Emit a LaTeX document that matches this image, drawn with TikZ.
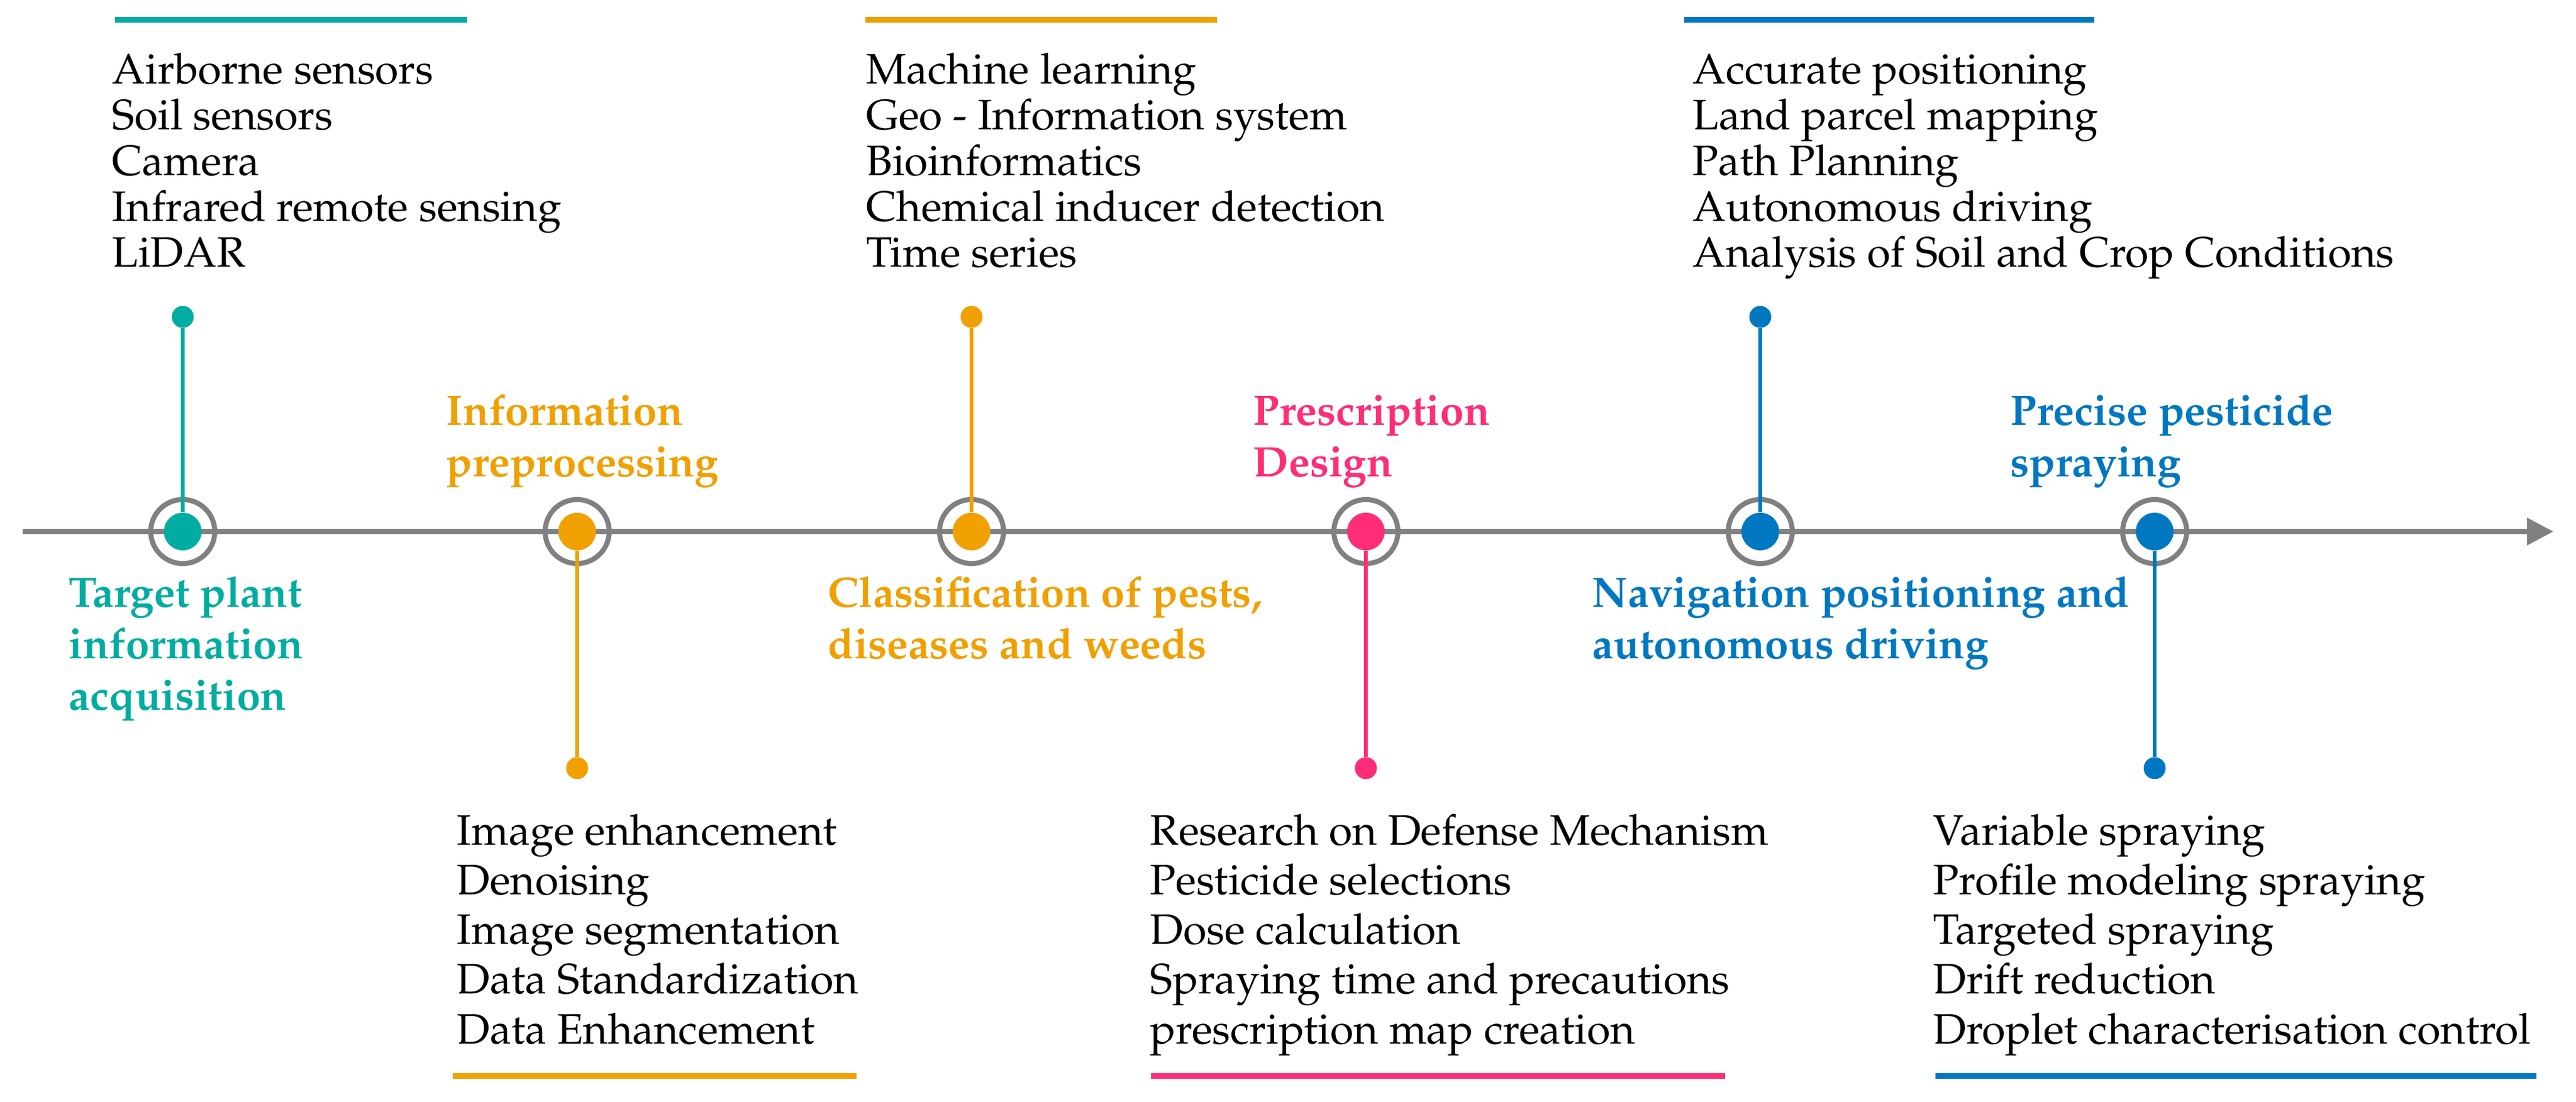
\documentclass[tikz,border=0pt]{standalone}
\usepackage[T1]{fontenc}
\usepackage{mathpazo}
\usetikzlibrary{arrows.meta}
\definecolor{cteal}{RGB}{0,173,160}
\definecolor{corange}{RGB}{240,160,0}
\definecolor{cpink}{RGB}{255,45,120}
\definecolor{cblue}{RGB}{0,120,193}
\definecolor{cgray}{RGB}{128,128,128}
\tikzset{
	ring/.style={circle, draw=cgray, line width=0.08cm, minimum size=1.02cm, inner sep=0pt},
	milestone/.style={circle, fill=#1, minimum size=0.6cm, inner sep=0pt},
	enddot/.style={circle, fill=#1, minimum size=0.35cm, inner sep=0pt},
	stem/.style={draw=#1, line width=0.055cm},
	rule/.style={draw=#1, line width=0.09cm},
	stage/.style={text=#1, anchor=base west, align=left, inner sep=0pt,
		font=\fontsize{19.3pt}{23.4pt}\selectfont\bfseries},
	itemlist/.style={anchor=base west, align=left, inner sep=0pt,
		font=\fontsize{19.3pt}{#1}\selectfont},
}
\begin{document}
\begin{tikzpicture}
		\useasboundingbox (0,0) rectangle (41.02,17.55);
		% timeline
		\coordinate (start) at (0.36,9.08);
		\coordinate (finish) at (40.66,9.08);
		\draw[cgray, line width=0.08cm, -{Triangle[length=0.42cm,width=0.42cm]}] (start) -- (finish);
		% milestones
		\node[ring] (r1) at (2.91,9.08) {};
		\node[ring] (r2) at (9.19,9.08) {};
		\node[ring] (r3) at (15.47,9.08) {};
		\node[ring] (r4) at (21.75,9.08) {};
		\node[ring] (r5) at (28.03,9.08) {};
		\node[ring] (r6) at (34.31,9.08) {};
		\node[milestone=cteal] (m1) at (r1) {};
		\node[milestone=corange] (m2) at (r2) {};
		\node[milestone=corange] (m3) at (r3) {};
		\node[milestone=cpink] (m4) at (r4) {};
		\node[milestone=cblue] (m5) at (r5) {};
		\node[milestone=cblue] (m6) at (r6) {};
		% end dots
		\node[enddot=cteal] (e1) at (2.91,12.50) {};
		\node[enddot=corange] (e2) at (9.19,5.31) {};
		\node[enddot=corange] (e3) at (15.47,12.50) {};
		\node[enddot=cpink] (e4) at (21.75,5.31) {};
		\node[enddot=cblue] (e5) at (28.03,12.50) {};
		\node[enddot=cblue] (e6) at (34.31,5.31) {};
		% stems
		\draw[stem=cteal] (m1) -- (e1);
		\draw[stem=corange] (m2) -- (e2);
		\draw[stem=corange] (m3) -- (e3);
		\draw[stem=cpink] (m4) -- (e4);
		\draw[stem=cblue] (m5) -- (e5);
		\draw[stem=cblue] (m6) -- (e6);
		% stage titles (placed at the baseline of their last line)
		\node[stage=cteal] (t1) at (1.09,6.23) {Target plant\\information\\acquisition};
		\node[stage=corange] (t2) at (7.10,9.95) {Information\\preprocessing};
		\node[stage=corange] (t3) at (13.18,7.05) {Classification of pests,\\diseases and weeds};
		\node[stage=cpink] (t4) at (19.95,9.95) {Prescription\\Design};
		\node[stage=cblue] (t5) at (25.35,7.05) {Navigation positioning and\\autonomous driving};
		\node[stage=cblue] (t6) at (32.01,9.95) {Precise pesticide\\spraying};
		% upper lists
		\node[itemlist=20.8pt] (l1) at (1.78,13.29) {Airborne sensors\\Soil sensors\\Camera\\Infrared remote sensing\\LiDAR};
		\node[itemlist=20.8pt] (l3) at (13.79,13.29) {Machine learning\\Geo - Information system\\Bioinformatics\\Chemical inducer detection\\Time series};
		\node[itemlist=20.8pt] (l5) at (26.95,13.29) {Accurate positioning\\Land parcel mapping\\Path Planning\\Autonomous driving\\Analysis of Soil and Crop Conditions};
		% lower lists
		\node[itemlist=22.5pt] (l2) at (7.27,0.92) {Image enhancement\\Denoising\\Image segmentation\\Data Standardization\\Data Enhancement};
		\node[itemlist=22.5pt] (l4) at (18.31,0.92) {Research on Defense Mechanism\\Pesticide selections\\Dose calculation\\Spraying time and precautions\\prescription map creation};
		\node[itemlist=22.5pt] (l6) at (30.78,0.92) {Variable spraying\\Profile modeling spraying\\Targeted spraying\\Drift reduction\\Droplet characterisation control};
		% rules
		\draw[rule=cteal] (1.83,17.23) -- (7.44,17.23);
		\draw[rule=corange] (13.78,17.23) -- (19.38,17.23);
		\draw[rule=cblue] (26.82,17.23) -- (33.35,17.23);
		\draw[rule=corange] (7.21,0.41) -- (13.64,0.41);
		\draw[rule=cpink] (18.33,0.41) -- (27.47,0.41);
		\draw[rule=cblue] (30.82,0.41) -- (40.39,0.41);
		\end{tikzpicture}
\end{document}
